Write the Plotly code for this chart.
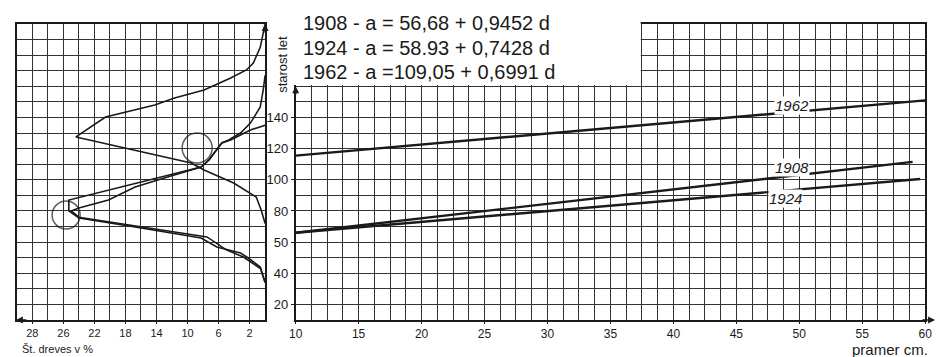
import plotly.graph_objects as go

# ---------------- data ----------------
# left panel: share of trees (%) vs age (years)
dist_a_pct = [0, 0.63, 1.52, 2.41, 4.44, 7.87, 11.68, 14.22, 20.57, 24.38, 9.52, 7.87, 4.06, 1.9, 1.14, 0.51, 0]
dist_a_age = [200, 185, 175, 170.5, 165.3, 157.6, 152.5, 148, 140.3, 127.5, 110.8, 106.3, 97.9, 91.5, 88.9, 80.6, 72]

dist_b_pct = [0, 0.63, 2.16, 3.17, 6.22, 8.25, 16.76, 24.0, 25.3, 25.3, 8.25, 7.24, 5.59, 4.44, 1.9, 0]
dist_b_age = [34, 44, 49.8, 53, 56.9, 62.6, 69.7, 75.5, 80, 87, 108.2, 112.7, 123.6, 125.5, 132, 135]

dist_c_pct = [0, 0.6, 2.79, 5.0, 7.49, 16.76, 24.0, 25.0, 24.0, 20.19, 16.76, 12.57, 8.25, 7.24, 5.59, 4.7, 3.17, 1.9, 0.63, 0.25, 0]
dist_c_age = [34, 43, 50.4, 55, 63.3, 70.5, 76, 80, 81.9, 87, 95.4, 101.8, 108.2, 112.7, 123.6, 125.5, 130, 136.4, 146.7, 157.6, 167]

circle_pct = [8.76, 25.65]
circle_age = [120.4, 77.4]
circle_size = [30, 28]

# right panel: age vs diameter (cm)
d_1962 = [10, 60]
a_1962 = [115.5, 151]
d_1908 = [10, 59]
a_1908 = [66, 111.5]
d_1924 = [10, 59.6]
a_1924 = [66, 100.5]

line_labels = ["1962", "1908", "1924"]
label_d = [49.4, 49.4, 48.9]
label_a = [148, 107.6, 88.3]

left_tickvals = [30, 26, 22, 18, 14, 10, 6, 2]
left_ticktext = ["28", "26", "22", "18", "14", "10", "6", "2"]
right_tickvals = [10, 15, 20, 25, 30, 35, 40, 45, 50, 55, 60]
age_tickvals = [20, 40, 60, 80, 100, 120, 140]
age_ticktext = ["20", "40", "50", "80", "100", "120", "140"]

equations = ["1908 - a = 56,68 + 0,9452 d",
             "1924 - a = 58.93 + 0,7428 d",
             "1962 - a =109,05 + 0,6991 d"]

# ---------------- figure ----------------
W, H = 945, 357
INK = "#1a1a1a"
GC = "#333333"
GW = 1.4
FONT = "Liberation Sans, Arial, sans-serif"

L_dom = [10 / W, 262 / W]
R_dom = [293 / W, 932 / W]
Y_dom = [(H - 320) / H, (H - 24) / H]

fig = go.Figure()

for px, ag in [(dist_a_pct, dist_a_age), (dist_b_pct, dist_b_age), (dist_c_pct, dist_c_age)]:
    fig.add_trace(go.Scatter(x=px, y=ag, mode="lines", xaxis="x", yaxis="y",
                             line=dict(color=INK, width=1.6), hoverinfo="skip"))
fig.add_trace(go.Scatter(x=circle_pct, y=circle_age, mode="markers", xaxis="x", yaxis="y",
                         marker=dict(symbol="circle-open", size=circle_size, color=INK,
                                     line=dict(width=1.5, color=INK)), hoverinfo="skip"))

for dd, aa in [(d_1962, a_1962), (d_1908, a_1908), (d_1924, a_1924)]:
    fig.add_trace(go.Scatter(x=dd, y=aa, mode="lines", xaxis="x2", yaxis="y2",
                             line=dict(color=INK, width=2.4), hoverinfo="skip"))

minor_common = dict(showgrid=True, gridcolor=GC, gridwidth=GW, ticks="")

fig.update_layout(
    width=W, height=H, margin=dict(l=0, r=0, t=0, b=0),
    paper_bgcolor="white", plot_bgcolor="white", showlegend=False,
    font=dict(family=FONT, color=INK),
    xaxis=dict(domain=L_dom, range=[32, 0], anchor="y",
               tickmode="array", tickvals=left_tickvals, ticktext=left_ticktext,
               ticks="outside", ticklen=2, tickcolor=INK, tickfont=dict(size=11, color=INK),
               showgrid=True, gridcolor=GC, gridwidth=GW, zeroline=False,
               showline=True, mirror=True, linecolor=INK, linewidth=1.6,
               minor=dict(tickmode="linear", tick0=0, dtick=2, **minor_common)),
    yaxis=dict(domain=Y_dom, range=[10, 200], anchor="x",
               tickmode="linear", tick0=10, dtick=10, showticklabels=False, ticks="",
               showgrid=True, gridcolor=GC, gridwidth=GW, zeroline=False,
               showline=True, mirror=True, linecolor=INK, linewidth=1.6),
    xaxis2=dict(domain=R_dom, range=[10, 60], anchor="y2",
                tickmode="array", tickvals=right_tickvals,
                ticks="outside", ticklen=2, tickcolor=INK, tickfont=dict(size=12, color=INK),
                showgrid=True, gridcolor=GC, gridwidth=GW, zeroline=False,
                showline=True, mirror=True, linecolor=INK, linewidth=1.6,
                minor=dict(tickmode="linear", tick0=10, dtick=1.25, **minor_common)),
    yaxis2=dict(domain=Y_dom, range=[10, 200], anchor="x2",
                tickmode="array", tickvals=age_tickvals, ticktext=age_ticktext,
                ticks="outside", ticklen=3, tickcolor=INK, tickfont=dict(size=13, color=INK),
                showgrid=True, gridcolor=GC, gridwidth=GW, zeroline=False,
                showline=True, mirror=True, linecolor=INK, linewidth=1.6,
                minor=dict(tickmode="linear", tick0=10, dtick=10, **minor_common)),
)

# blank out the upper-left part of the right grid (graph paper only there above 160)
def xr_paper(v):
    return R_dom[0] + (v - 10) / 50 * (R_dom[1] - R_dom[0])

def y_paper(v):
    return Y_dom[0] + (v - 10) / 190 * (Y_dom[1] - Y_dom[0])

fig.add_shape(type="rect", xref="paper", yref="paper",
              x0=289 / W, x1=xr_paper(37.5) - 1.2 / W,
              y0=y_paper(160) + 1.2 / H, y1=1.0,
              fillcolor="white", line=dict(width=0), layer="above")

annotations = []
for i, eq in enumerate(equations):
    annotations.append(dict(text=eq, xref="paper", yref="paper", x=298 / W,
                            y=1 - [23, 48, 72][i] / H, xanchor="left", yanchor="middle",
                            showarrow=False, font=dict(size=20, color=INK, family=FONT)))
for t, xd, ya in zip(line_labels, label_d, label_a):
    annotations.append(dict(text="<i>" + t + "</i>", xref="x2", yref="y2", x=xd, y=ya,
                            showarrow=False, bgcolor="white", borderpad=0,
                            font=dict(size=15, color=INK, family=FONT)))
annotations += [
    dict(text="starost let", xref="paper", yref="paper", x=279 / W, y=1 - 64 / H,
         xanchor="center", yanchor="middle",
         textangle=-90, showarrow=False, font=dict(size=13, color=INK)),
    dict(text="Št. dreves v %", xref="paper", yref="paper", x=13 / W, y=1 - 349 / H,
         xanchor="left", yanchor="middle", showarrow=False, font=dict(size=11, color=INK)),
    dict(text="pramer cm.", xref="paper", yref="paper", x=937 / W, y=1 - 349 / H,
         xanchor="right", yanchor="middle", showarrow=False, font=dict(size=15, color=INK)),
    # axis arrows
    dict(x=0, y=200, xref="x", yref="y", ax=0, ay=10, showarrow=True, text="",
         arrowhead=2, arrowsize=1, arrowwidth=1.4, arrowcolor=INK),
    dict(x=10, y=160, xref="x2", yref="y2", ax=0, ay=10, showarrow=True, text="",
         arrowhead=2, arrowsize=1, arrowwidth=1.4, arrowcolor=INK),
    dict(x=942 / W, y=10, xref="paper", yref="y2", ax=-14, ay=0, showarrow=True, text="",
         arrowhead=2, arrowsize=1, arrowwidth=1.4, arrowcolor=INK),
    dict(x=9 / W, y=10, xref="paper", yref="y", ax=12, ay=0, showarrow=True, text="",
         arrowhead=2, arrowsize=1, arrowwidth=1.4, arrowcolor=INK),
]
fig.update_layout(annotations=annotations)

fig.write_html("out.html")
